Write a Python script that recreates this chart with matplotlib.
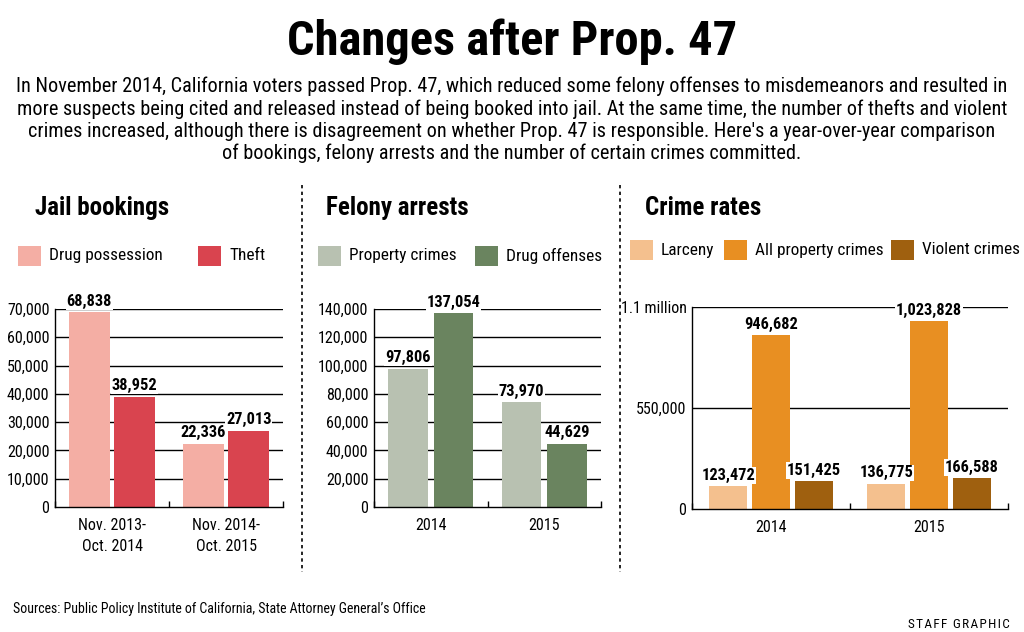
import matplotlib
matplotlib.use("Agg")
import numpy as np
import matplotlib.pyplot as plt
from matplotlib.lines import Line2D
from matplotlib.patches import Rectangle

W, H = 1024, 632
plt.rcParams["font.family"] = ["Roboto Condensed", "DejaVu Sans"]

# ── data ────────────────────────────────────────────────────────────────────
jail_groups = ["Nov. 2013-\nOct. 2014", "Nov. 2014-\nOct. 2015"]
jail_drug = [68838, 22336]
jail_theft = [38952, 27013]
jail_ticks = [0, 10000, 20000, 30000, 40000, 50000, 60000, 70000]

felony_groups = ["2014", "2015"]
felony_property = [97806, 73970]
felony_drug = [137054, 44629]
felony_ticks = [0, 20000, 40000, 60000, 80000, 100000, 120000, 140000]

crime_groups = ["2014", "2015"]
crime_larceny = [123472, 136775]
crime_property = [946682, 1023828]
crime_violent = [151425, 166588]
crime_ticks = [0, 550000, 1100000]
crime_ticklabels = ["0", "550,000", "1.1 million"]

C_DRUG_POS = "#f4aea4"
C_THEFT = "#d9444f"
C_PROP = "#b8c1b1"
C_DRUG_OFF = "#6a845f"
C_LARC = "#f4c08e"
C_ALLPROP = "#e88f22"
C_VIOL = "#9f600f"


# ── helpers ─────────────────────────────────────────────────────────────────

def fx(x):
    return x / W


def fy(y):
    return 1 - y / H


def px_axes(fig, left, top, right, bottom):
    return fig.add_axes([fx(left), fy(bottom), (right - left) / W, (bottom - top) / H])


def fmt(v):
    return f"{v:,}"


def draw_panel(ax, groups, series, colors, width, offsets, ticks, ticklabels, ymax):
    x = np.arange(len(groups))
    for t in ticks[1:]:
        ax.axhline(t, color="black", linewidth=1.0, zorder=1)
    for vals, col, off in zip(series, colors, offsets):
        ax.bar(x + off, vals, width=width, color=col, zorder=2)
        for xi, v in zip(x, vals):
            ax.annotate(fmt(v), (xi + off, v), xytext=(0, 2.5), textcoords="offset points",
                        ha="center", va="bottom", fontsize=11.8, fontweight="bold",
                        zorder=4, annotation_clip=False,
                        bbox=dict(boxstyle="square,pad=0.05", fc="white", ec="none"))
    ax.set_xlim(-0.5, len(groups) - 0.5)
    ax.set_ylim(0, ymax)
    ax.set_yticks(ticks)
    ax.set_yticklabels(ticklabels, fontsize=11.5)
    ax.tick_params(axis="y", length=0, pad=4)
    ax.set_xticks(x)
    ax.set_xticklabels(groups, fontsize=11.5, linespacing=1.45)
    ax.tick_params(axis="x", length=0, pad=8)
    ax.set_xticks([-0.5, 0.5, len(groups) - 0.5], minor=True)
    ax.tick_params(axis="x", which="minor", direction="in", length=4, width=1)
    for s in ["top", "right"]:
        ax.spines[s].set_visible(False)
    ax.spines["left"].set_linewidth(1.0)
    ax.spines["bottom"].set_linewidth(1.0)
    ax.patch.set_alpha(0)


def legend_item(fig, x, y, color, label):
    fig.add_artist(Rectangle((fx(x), fy(y + 10)), 23 / W, 20 / H, transform=fig.transFigure,
                             facecolor=color, edgecolor="none"))
    fig.text(fx(x + 31), fy(y), label, fontsize=12.4, va="center", ha="left")


# ── figure ──────────────────────────────────────────────────────────────────

fig = plt.figure(figsize=(W / 100, H / 100), dpi=100)
fig.patch.set_facecolor("white")

fig.text(0.5, fy(42), "Changes after Prop. 47", ha="center", va="center",
         fontsize=35, fontweight="bold")
intro = ("In November 2014, California voters passed Prop. 47, which reduced some felony offenses to misdemeanors and resulted in\n"
         "more suspects being cited and released instead of being booked into jail. At the same time, the number of thefts and violent\n"
         "crimes increased, although there is disagreement on whether Prop. 47 is responsible. Here's a year-over-year comparison\n"
         "of bookings, felony arrests and the number of certain crimes committed.")
fig.text(0.5, fy(120), intro, ha="center", va="center", fontsize=14.6, linespacing=1.2)

fig.text(fx(35), fy(208), "Jail bookings", fontsize=18, fontweight="bold", va="center")
fig.text(fx(326), fy(208), "Felony arrests", fontsize=18, fontweight="bold", va="center")
fig.text(fx(645), fy(208), "Crime rates", fontsize=18, fontweight="bold", va="center")

legend_item(fig, 18, 256, C_DRUG_POS, "Drug possession")
legend_item(fig, 198, 256, C_THEFT, "Theft")
legend_item(fig, 318, 256, C_PROP, "Property crimes")
legend_item(fig, 475, 256, C_DRUG_OFF, "Drug offenses")
legend_item(fig, 630, 250, C_LARC, "Larceny")
legend_item(fig, 724, 250, C_ALLPROP, "All property crimes")
legend_item(fig, 891, 250, C_VIOL, "Violent crimes")

ax1 = px_axes(fig, 55, 309, 283, 507)
draw_panel(ax1, jail_groups, [jail_drug, jail_theft], [C_DRUG_POS, C_THEFT],
           0.36, [-0.2, 0.2], jail_ticks, [fmt(t) for t in jail_ticks], 70000)

ax2 = px_axes(fig, 374, 309, 601, 507)
draw_panel(ax2, felony_groups, [felony_property, felony_drug], [C_PROP, C_DRUG_OFF],
           0.35, [-0.2, 0.2], felony_ticks, [fmt(t) for t in felony_ticks], 140000)

ax3 = px_axes(fig, 692, 307, 1008, 509)
draw_panel(ax3, crime_groups, [crime_larceny, crime_property, crime_violent],
           [C_LARC, C_ALLPROP, C_VIOL], 0.24, [-0.27, 0, 0.27],
           crime_ticks, crime_ticklabels, 1100000)

# dotted separators between panels
for xs in (302, 620):
    fig.add_artist(Line2D([fx(xs), fx(xs)], [fy(185), fy(572)], transform=fig.transFigure,
                          color="black", linewidth=1.2, linestyle=(0, (2, 2))))

fig.text(fx(13), fy(609), "Sources: Public Policy Institute of California, State Attorney General\u2019s Office",
         fontsize=10, va="center", ha="left")
fig.text(fx(1010), fy(624), "\u200a".join("STAFF GRAPHIC"), fontsize=9.5,
         va="center", ha="right")

fig.savefig("out.png", dpi=100)
